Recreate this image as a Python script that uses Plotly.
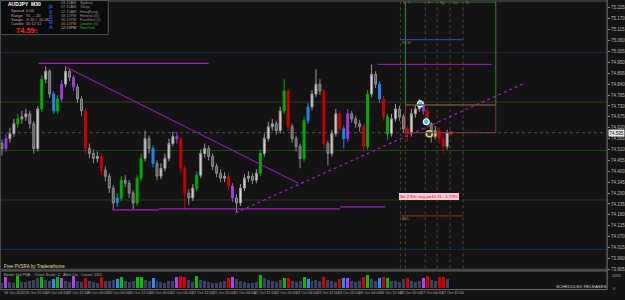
import plotly.graph_objects as go

W, H = 625, 300
SYMBOL = "AUDJPY"
TIMEFRAME = "M30"
LAST_PRICE = 74.595

# ---------------- data ----------------
opens = [74.540, 74.515, 74.565, 74.590, 74.640, 74.665, 74.675, 74.690, 74.640, 74.515,
         74.715, 74.865, 74.905, 74.790, 74.705, 74.765, 74.840, 74.905, 74.875, 74.825,
         74.765, 74.705, 74.515, 74.490, 74.465, 74.475, 74.405, 74.375, 74.315, 74.240,
         74.265, 74.355, 74.340, 74.290, 74.240, 74.365, 74.465, 74.565, 74.515, 74.440,
         74.375, 74.415, 74.465, 74.540, 74.575, 74.565, 74.415, 74.290, 74.265, 74.315,
         74.380, 74.490, 74.515, 74.475, 74.425, 74.390, 74.365, 74.375, 74.325, 74.265,
         74.240, 74.315, 74.365, 74.375, 74.355, 74.390, 74.490, 74.565, 74.625, 74.640,
         74.605, 74.705, 74.805, 74.625, 74.565, 74.525, 74.465, 74.655, 74.725, 74.790,
         74.840, 74.805, 74.540, 74.490, 74.590, 74.690, 74.615, 74.565, 74.690, 74.665,
         74.640, 74.625, 74.525, 74.790, 74.890, 74.840, 74.765, 74.675, 74.590, 74.665,
         74.715, 74.675, 74.615, 74.590, 74.690, 74.715, 74.740, 74.705, 74.640, 74.575,
         74.605, 74.565, 74.525]
closes = [74.515, 74.565, 74.590, 74.640, 74.665, 74.675, 74.690, 74.640, 74.515, 74.715,
          74.865, 74.905, 74.790, 74.705, 74.765, 74.840, 74.905, 74.875, 74.825, 74.765,
          74.705, 74.515, 74.490, 74.465, 74.475, 74.405, 74.375, 74.315, 74.240, 74.265,
          74.355, 74.340, 74.290, 74.240, 74.365, 74.465, 74.565, 74.515, 74.440, 74.375,
          74.415, 74.465, 74.540, 74.575, 74.565, 74.415, 74.290, 74.265, 74.315, 74.380,
          74.490, 74.515, 74.475, 74.425, 74.390, 74.365, 74.375, 74.325, 74.265, 74.240,
          74.315, 74.365, 74.375, 74.355, 74.390, 74.490, 74.565, 74.625, 74.640, 74.605,
          74.705, 74.805, 74.625, 74.565, 74.525, 74.465, 74.655, 74.725, 74.790, 74.840,
          74.805, 74.540, 74.490, 74.590, 74.690, 74.615, 74.565, 74.690, 74.665, 74.640,
          74.625, 74.525, 74.790, 74.890, 74.840, 74.765, 74.675, 74.590, 74.665, 74.715,
          74.675, 74.615, 74.590, 74.690, 74.715, 74.740, 74.705, 74.640, 74.575, 74.605,
          74.565, 74.525, 74.595]
highs = [74.560, 74.590, 74.620, 74.665, 74.690, 74.705, 74.715, 74.705, 74.655, 74.730,
         74.885, 74.930, 74.915, 74.805, 74.785, 74.860, 74.925, 74.915, 74.885, 74.840,
         74.780, 74.715, 74.540, 74.510, 74.500, 74.490, 74.425, 74.390, 74.330, 74.290,
         74.375, 74.380, 74.355, 74.305, 74.380, 74.490, 74.605, 74.580, 74.530, 74.455,
         74.440, 74.490, 74.565, 74.600, 74.600, 74.575, 74.430, 74.310, 74.335, 74.400,
         74.510, 74.540, 74.530, 74.490, 74.440, 74.410, 74.395, 74.390, 74.340, 74.285,
         74.335, 74.385, 74.400, 74.390, 74.410, 74.510, 74.590, 74.650, 74.665, 74.655,
         74.725, 74.865, 74.815, 74.640, 74.580, 74.540, 74.675, 74.745, 74.810, 74.915,
         74.865, 74.815, 74.555, 74.610, 74.715, 74.705, 74.630, 74.715, 74.705, 74.680,
         74.660, 74.640, 74.810, 74.940, 74.905, 74.855, 74.780, 74.690, 74.690, 74.740,
         74.730, 74.690, 74.630, 74.715, 74.735, 74.765, 74.755, 74.720, 74.650, 74.630,
         74.625, 74.600, 74.610]
lows = [74.480, 74.500, 74.545, 74.575, 74.620, 74.640, 74.655, 74.615, 74.490, 74.500,
        74.700, 74.845, 74.770, 74.690, 74.690, 74.750, 74.825, 74.855, 74.805, 74.745,
        74.680, 74.490, 74.465, 74.440, 74.445, 74.380, 74.350, 74.290, 74.205, 74.220,
        74.250, 74.320, 74.265, 74.205, 74.225, 74.350, 74.450, 74.490, 74.420, 74.355,
        74.360, 74.400, 74.450, 74.525, 74.540, 74.390, 74.205, 74.230, 74.250, 74.300,
        74.365, 74.470, 74.455, 74.405, 74.370, 74.345, 74.345, 74.305, 74.245, 74.190,
        74.225, 74.300, 74.345, 74.335, 74.340, 74.375, 74.475, 74.550, 74.605, 74.585,
        74.590, 74.690, 74.605, 74.545, 74.500, 74.415, 74.450, 74.640, 74.710, 74.775,
        74.785, 74.515, 74.430, 74.475, 74.575, 74.595, 74.515, 74.550, 74.645, 74.620,
        74.600, 74.500, 74.510, 74.775, 74.820, 74.745, 74.655, 74.560, 74.575, 74.650,
        74.655, 74.595, 74.550, 74.575, 74.670, 74.700, 74.685, 74.620, 74.545, 74.560,
        74.540, 74.490, 74.510]
volumes = [420, 900, 480, 430, 950, 500, 450, 520, 600, 820,
           900, 640, 560, 700, 880, 760, 520, 450, 960, 520,
           480, 820, 560, 470, 420, 850, 520, 560, 600, 700,
           900, 540, 480, 560, 860, 880, 600, 520, 820, 560,
           470, 430, 520, 560, 900, 950, 880, 620, 500, 940,
           600, 540, 470, 430, 400, 460, 520, 820, 860, 700,
           560, 500, 430, 400, 460, 1000, 820, 600, 560, 500,
           620, 780, 820, 560, 480, 520, 880, 720, 560, 600,
           520, 830, 620, 520, 480, 700, 760, 800, 560, 500,
           520, 900, 1000, 700, 560, 760, 900, 820, 560, 520,
           480, 700, 800, 560, 500, 540, 800, 950, 600, 560,
           860, 900, 700]
# PVSRA class per bar: n normal, G green, R red, B blue, M magenta
pvsra = list("nMnnGnnnnn" "GnnBGMnnMn" "nRnnnRnnnB" "GnnnGGnnBn" "nnnnMRRnnG"
             "nnnnnnnRMn" "nnnnnGnnnn" "nGRnnnGBnn" "nRnnnRBMnn" "nRGnnBRGnn"
             "nnRnnnMRnn" "RRn")
bar_index = list(range(len(closes)))

time_labels = ["16 Oct 2020", "16 Oct 15:00", "19 Oct 04:00", "19 Oct 12:00", "19 Oct 20:00",
               "20 Oct 04:00", "20 Oct 12:00", "20 Oct 20:00", "21 Oct 04:00", "21 Oct 12:00",
               "21 Oct 20:00", "22 Oct 04:00", "22 Oct 12:00", "22 Oct 20:00", "23 Oct 04:00",
               "23 Oct 12:00", "23 Oct 20:00", "26 Oct 04:00", "26 Oct 12:00", "26 Oct 20:00",
               "27 Oct 04:00", "27 Oct 12:00"]
time_label_bars = [0, 5.25, 10.5, 15.75, 21, 26.25, 31.5, 36.75, 42, 47.25, 52.5,
                   57.75, 63, 68.25, 73.5, 78.75, 84, 89.25, 94.5, 99.75, 105, 110.25]
price_ticks = [75.225, 75.170, 75.115, 75.060, 75.005, 74.950, 74.895, 74.840, 74.785,
               74.730, 74.675, 74.620, 74.565, 74.510, 74.455, 74.400, 74.345, 74.290,
               74.235, 74.180, 74.125, 74.070, 74.015, 73.960, 73.905]

# drawings (bar index, price)
level_prices = [75.000, 74.750, 74.505, 74.255, 74.005]
level_colors = ["#1e2c4e", "#3b3622", "#1d451d", "#3b3622", "#1e2c4e"]
resist1_x, resist1_y = [9.25, 52], [74.945, 74.945]
resist2_x, resist2_y = [94.5, 123.25], [74.940, 74.940]
desc_x, desc_y = [15.75, 74.5], [74.930, 74.340]
rise_x, rise_y = [58.75, 131.5], [74.190, 74.845]
support_x = [[27.75, 39.5], [39.5, 85], [85, 96.5]]
support_y = [74.205, 74.210, 74.220]
box_x = [101.5, 124.25]
green_box_y = [74.735, 75.255]
red_box_y = [74.595, 74.735]
session_x = [100.25, 101.5, 106.5, 109.5, 112.75, 116]
session_lbl = ["S", "T", "F", "Ny", "Lo", "S"]
blue_lvl_x, blue_lvl_y = [100.25, 116], 75.065
red_lvl_x, red_lvl_y = [100.25, 116], 74.175
pivot_x = [105.25, 106.75, 107.5]
pivot_y = [74.740, 74.650, 74.590]

# ---------------- figure ----------------
BG = "#131313"
XR = [-0.5, 152.25]
XD = [0, 611 / W]
PR = [73.905, 75.255]
FONT = "Liberation Sans"


def py(p):  # pixel y -> paper
    return 1 - p / H


def px(p):
    return p / W


fig = go.Figure()

cand_colors = {"G": "#00b000", "R": "#c80000", "B": "#1e88f0", "M": "#9c3ce0"}
vol_colors = {"n": "#3a4163", "G": "#00c000", "R": "#d40000", "B": "#2090ff", "M": "#b040f0"}

idx_n = [i for i in bar_index if pvsra[i] == "n"]
fig.add_trace(go.Candlestick(
    x=idx_n, open=[opens[i] for i in idx_n], high=[highs[i] for i in idx_n],
    low=[lows[i] for i in idx_n], close=[closes[i] for i in idx_n],
    increasing=dict(line=dict(color="#9a9a9a", width=1), fillcolor="#dcdcdc"),
    decreasing=dict(line=dict(color="#8c8c8c", width=1), fillcolor="#5c5c5c"),
    whiskerwidth=0, showlegend=False, xaxis="x", yaxis="y"))
for k, col in cand_colors.items():
    ids = [i for i in bar_index if pvsra[i] == k]
    fig.add_trace(go.Candlestick(
        x=ids, open=[opens[i] for i in ids], high=[highs[i] for i in ids],
        low=[lows[i] for i in ids], close=[closes[i] for i in ids],
        increasing=dict(line=dict(color=col, width=1), fillcolor=col),
        decreasing=dict(line=dict(color=col, width=1), fillcolor=col),
        whiskerwidth=0, showlegend=False, xaxis="x", yaxis="y"))

fig.add_trace(go.Bar(x=bar_index, y=volumes, marker_color=[vol_colors[c] for c in pvsra],
                     marker_line_width=0, width=0.75, showlegend=False,
                     xaxis="x2", yaxis="y2"))

# trend lines
line_kw = dict(mode="lines", showlegend=False, hoverinfo="skip", xaxis="x", yaxis="y")
fig.add_trace(go.Scatter(x=resist1_x, y=resist1_y, line=dict(color="#a020c0", width=1.3), **line_kw))
fig.add_trace(go.Scatter(x=resist2_x, y=resist2_y, line=dict(color="#a020c0", width=1), **line_kw))
fig.add_trace(go.Scatter(x=desc_x, y=desc_y, line=dict(color="#a020c0", width=1), **line_kw))
fig.add_trace(go.Scatter(x=rise_x, y=rise_y, line=dict(color="#a020c0", width=1.2, dash="dot"), **line_kw))
for sx, sy in zip(support_x, support_y):
    fig.add_trace(go.Scatter(x=sx, y=[sy, sy], line=dict(color="#a020c0", width=1.3), **line_kw))

# pivot markers
fig.add_trace(go.Scatter(x=pivot_x[:2], y=pivot_y[:2], mode="markers", showlegend=False,
                         marker=dict(size=6, color="#30d0f0", line=dict(color="#ffffff", width=1.2)),
                         xaxis="x", yaxis="y"))
fig.add_trace(go.Scatter(x=pivot_x[2:], y=pivot_y[2:], mode="markers", showlegend=False,
                         marker=dict(size=6, color="#1030c0", line=dict(color="#e0e020", width=1.5)),
                         xaxis="x", yaxis="y"))
fig.add_trace(go.Scatter(x=[113], y=[LAST_PRICE], mode="markers", showlegend=False,
                         marker=dict(size=3, color="#ff2020", symbol="square"),
                         xaxis="x", yaxis="y"))

shapes = []
# horizontal levels
for lp, lc in zip(level_prices, level_colors):
    shapes.append(dict(type="line", xref="x", yref="y", x0=XR[0], x1=XR[1], y0=lp, y1=lp,
                       line=dict(color=lc, width=1), layer="below"))
shapes.append(dict(type="line", xref="x", yref="y", x0=XR[0], x1=XR[1], y0=LAST_PRICE, y1=LAST_PRICE,
                   line=dict(color="#505050", width=1, dash="dot"), layer="below"))
# session verticals
for sx in session_x:
    shapes.append(dict(type="line", xref="x", yref="paper", x0=sx, x1=sx, y0=py(271), y1=py(2),
                       line=dict(color="#4a4a26", width=1, dash="dot"), layer="below"))
# boxes
shapes.append(dict(type="rect", xref="x", yref="y", x0=box_x[0], x1=box_x[1],
                   y0=green_box_y[0], y1=green_box_y[1], line=dict(color="#2e8a2e", width=1)))
shapes.append(dict(type="rect", xref="x", yref="y", x0=box_x[0], x1=box_x[1],
                   y0=red_box_y[0], y1=red_box_y[1], line=dict(color="#8a3a3a", width=1)))
shapes.append(dict(type="line", xref="x", yref="y", x0=blue_lvl_x[0], x1=blue_lvl_x[1],
                   y0=blue_lvl_y, y1=blue_lvl_y, line=dict(color="#3a3ab0", width=1.2)))
shapes.append(dict(type="line", xref="x", yref="y", x0=red_lvl_x[0], x1=red_lvl_x[1],
                   y0=red_lvl_y, y1=red_lvl_y, line=dict(color="#7a3030", width=1.2)))
# frame
shapes.append(dict(type="line", xref="paper", yref="paper", x0=0, x1=XD[1], y0=py(1), y1=py(1),
                   line=dict(color="#5a5a5a", width=1)))
shapes.append(dict(type="rect", xref="paper", yref="paper", x0=0, x1=XD[1], y0=py(274.5), y1=py(271.5),
                   fillcolor="#4a4a4a", line=dict(width=0)))
shapes.append(dict(type="line", xref="paper", yref="paper", x0=0, x1=XD[1], y0=py(292.5), y1=py(292.5),
                   line=dict(color="#6a6a6a", width=1)))
shapes.append(dict(type="line", xref="paper", yref="paper", x0=px(0.5), x1=px(0.5), y0=py(292.5), y1=py(1),
                   line=dict(color="#4a4a4a", width=1)))
shapes.append(dict(type="line", xref="paper", yref="paper", x0=XD[1], x1=XD[1], y0=py(292.5), y1=py(0),
                   line=dict(color="#7a7a7a", width=1)))
# info box
shapes.append(dict(type="rect", xref="paper", yref="paper", x0=px(0.5), x1=px(109), y0=py(35), y1=py(0.5),
                   fillcolor="#0b0b0b", line=dict(color="#555555", width=1)))

ann = []


def txt(x, y, s, size=4.5, color="#a0a0a0", anchor="left", bold=False, **kw):
    if bold:
        s = "<b>" + s + "</b>"
    d = dict(x=px(x), y=py(y), xref="paper", yref="paper", text=s, showarrow=False,
             xanchor=anchor, yanchor="middle", font=dict(size=size, color=color, family=FONT))
    d.update(kw)
    ann.append(d)


txt(6, 4, f"{SYMBOL}  {TIMEFRAME}", size=5, color="#ffffff", bold=True)
info_lines = ["Spread  0.00", "Range   91 ... 20", "Swaps  -3.10 / -10.46", "Candle  00:12:12"]
for k, s in enumerate(info_lines):
    txt(9, 11 + k * 4.4, s, size=4, color="#c4a0b4")
txt(14, 31, "74.59", size=7.5, color="#ff2828", bold=True)
txt(33, 32, "5", size=4.5, color="#ff2828")
for k, ch in enumerate("PVSRA"):
    txt(51, 7.3 + k * 5, ch, size=5.5, color="#3050e8", anchor="center", bold=True)
sess_times = ["03:15AM", "07:15AM", "12:15AM", "08:15PM", "06:15PM", "06:15PM", "12:15PM"]
sess_names = ["Sydney", "Tokyo", "HongKong", "Helsinki (0)", "Frankfurt (1)", "London (0)", "NewYork"]
t_cols = ["#909090"] * 5 + ["#d08040", "#c0c0c0"]
n_cols = ["#909090"] * 5 + ["#30b030", "#30b030"]
for k in range(7):
    txt(59, 3.4 + k * 4.15, sess_times[k], size=3.8, color=t_cols[k])
    txt(78, 3.4 + k * 4.15, sess_names[k], size=3.8, color=n_cols[k])

txt(2, 269, "Free PVSRA by Traderathome", size=4.5, color="#e8dca0")
txt(2, 277.5, "Better Vol PVA:   Chart Scale: 2,  Alert On,  Count: 1111", size=4, color="#a8a8a8")
txt(558, 289.5, "SCHEDULED RELEASES", size=4.3, color="#d0d0d0")
txt(614, 278, "1092", size=4, color="#b0b0b0")
txt(615, 291, "0", size=4, color="#b0b0b0")

# time axis labels
for tb, tl in zip(time_label_bars, time_labels):
    ann.append(dict(x=tb, y=py(296), xref="x", yref="paper", text=tl, showarrow=False,
                    xanchor="left", yanchor="middle", font=dict(size=3.8, color="#b0b0b0", family=FONT)))
# session labels
for sx, sl in zip(session_x, session_lbl):
    ann.append(dict(x=sx, y=py(3.5), xref="x", yref="paper", text=sl, showarrow=False,
                    xanchor="left", yanchor="middle", xshift=1,
                    font=dict(size=3.8, color="#8a8a3a", family=FONT)))
ann.append(dict(x=session_x[0], y=75.05, xref="x", yref="y", text="RCM", showarrow=False,
                xanchor="left", yanchor="middle", font=dict(size=3.8, color="#8a8a3a", family=FONT)))
ann.append(dict(x=session_x[0], y=74.16, xref="x", yref="y", text="ADL", showarrow=False,
                xanchor="left", yanchor="middle", font=dict(size=3.8, color="#8a8a3a", family=FONT)))
ann.append(dict(x=107.4, y=74.275, xref="x", yref="y", text="Str 2 Ehr avg p=10.11, -1.74%",
                showarrow=False, xanchor="center", yanchor="middle", bgcolor="#ffc8d2",
                bordercolor="#ffffff", borderwidth=0.5, borderpad=0.5,
                font=dict(size=4.3, color="#e01030", family=FONT)))
# current price tag
ann.append(dict(x=px(612), y=LAST_PRICE, xref="paper", yref="y", text="74.595", showarrow=False,
                xanchor="left", yanchor="middle", bgcolor="#e8e8e8", borderpad=0.5,
                font=dict(size=4.5, color="#000000", family=FONT)))

fig.update_layout(
    width=W, height=H, margin=dict(l=0, r=0, t=0, b=0),
    paper_bgcolor=BG, plot_bgcolor=BG, showlegend=False,
    shapes=shapes, annotations=ann, bargap=0,
    xaxis=dict(domain=XD, range=XR, showticklabels=False, showgrid=False, zeroline=False,
               rangeslider=dict(visible=False), anchor="y", fixedrange=True),
    xaxis2=dict(domain=XD, range=XR, showticklabels=False, showgrid=False, zeroline=False,
                matches="x", anchor="y2"),
    yaxis=dict(domain=[py(272), py(2)], range=PR, side="right", tickvals=price_ticks,
               ticktext=[f"{t:.3f}" for t in price_ticks], tickfont=dict(size=4.5, color="#b8b8b8", family=FONT),
               ticks="outside", ticklen=2, tickcolor="#888888", showgrid=False, zeroline=False,
               anchor="x"),
    yaxis2=dict(domain=[py(292), py(275)], range=[-60, 1250], showticklabels=False,
                showgrid=False, zeroline=False, anchor="x2"),
)

fig.write_html("out.html")
